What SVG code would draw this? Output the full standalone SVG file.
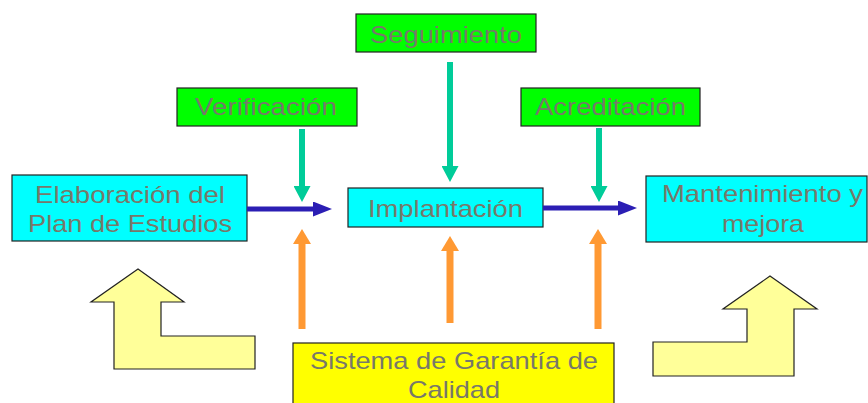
<svg xmlns="http://www.w3.org/2000/svg" width="868" height="403" viewBox="0 0 868 403">
<style>
  .box{stroke:#222;stroke-width:1.2}
  .cyan{fill:#00FFFF}
  .green{fill:#00FF00}
  .yellow{fill:#FFFF00}
  .big{fill:#FFFF99;stroke:#222;stroke-width:1.2}
  text{font-family:"Liberation Sans",Arial,sans-serif;font-size:24px;fill:#78786A;text-anchor:middle}
  .blue{stroke:#2B1EB4;stroke-width:5;fill:none}
  .teal{stroke:#00CC99;stroke-width:6;fill:none}
  .orange{stroke:#FF9933;stroke-width:7;fill:none}
</style>
<defs>
  <marker id="hb" markerUnits="userSpaceOnUse" markerWidth="19" markerHeight="15" refX="2" refY="7.5" orient="auto"><path d="M0,0 L19,7.5 L0,15 z" fill="#2B1EB4"/></marker>
  <marker id="hg" markerUnits="userSpaceOnUse" markerWidth="16" markerHeight="17" refX="2" refY="8.5" orient="auto"><path d="M0,0 L16,8.5 L0,17 z" fill="#00CC99"/></marker>
  <marker id="ho" markerUnits="userSpaceOnUse" markerWidth="15" markerHeight="18" refX="2" refY="9" orient="auto"><path d="M0,0 L15,9 L0,18 z" fill="#FF9933"/></marker>
</defs>
<g id="arrow-left">
  <path class="big" d="M138,269 L184,302 L161,302 L161,336 L255,336 L255,369 L114,369 L114,302 L91,302 Z"/>
</g>
<g id="arrow-right">
  <path class="big" d="M770,276 L817,309 L794,309 L794,376 L653,376 L653,342 L747,342 L747,309 L723,309 Z"/>
</g>
<g id="seguimiento">
  <rect class="box green" x="356" y="14" width="180" height="38"/>
  <text x="446" y="43" textLength="152" lengthAdjust="spacingAndGlyphs">Seguimiento</text>
</g>
<g id="verificacion">
  <rect class="box green" x="177" y="88" width="180" height="38"/>
  <text x="266" y="115" textLength="142" lengthAdjust="spacingAndGlyphs">Verificación</text>
</g>
<g id="acreditacion">
  <rect class="box green" x="521" y="88" width="179" height="38"/>
  <text x="610.5" y="115" textLength="151" lengthAdjust="spacingAndGlyphs">Acreditación</text>
</g>
<g id="elaboracion">
  <rect class="box cyan" x="12" y="175" width="235" height="66"/>
  <text x="130" y="203" textLength="190" lengthAdjust="spacingAndGlyphs">Elaboración del</text>
  <text x="130" y="232" textLength="204" lengthAdjust="spacingAndGlyphs">Plan de Estudios</text>
</g>
<g id="implantacion">
  <rect class="box cyan" x="348" y="188" width="195" height="39"/>
  <text x="445.5" y="217" textLength="155" lengthAdjust="spacingAndGlyphs">Implantación</text>
</g>
<g id="mantenimiento">
  <rect class="box cyan" x="646" y="176" width="221" height="66"/>
  <text x="762.5" y="202" textLength="201" lengthAdjust="spacingAndGlyphs">Mantenimiento y</text>
  <text x="763" y="232" textLength="82" lengthAdjust="spacingAndGlyphs">mejora</text>
</g>
<g id="sistema">
  <rect class="box yellow" x="293" y="343" width="321" height="64"/>
  <text x="454" y="369" textLength="288" lengthAdjust="spacingAndGlyphs">Sistema de Garantía de</text>
  <text x="454" y="398" textLength="92" lengthAdjust="spacingAndGlyphs">Calidad</text>
</g>
<g id="connectors">
  <line class="blue" x1="247" y1="209" x2="315" y2="209" marker-end="url(#hb)"/>
  <line class="blue" x1="543" y1="208" x2="620" y2="208" marker-end="url(#hb)"/>
  <line class="teal" x1="302" y1="129" x2="302" y2="188" marker-end="url(#hg)"/>
  <line class="teal" x1="450" y1="62" x2="450" y2="168" marker-end="url(#hg)"/>
  <line class="teal" x1="599" y1="128" x2="599" y2="188" marker-end="url(#hg)"/>
  <line class="orange" x1="302" y1="329" x2="302" y2="242" marker-end="url(#ho)"/>
  <line class="orange" x1="450" y1="323" x2="450" y2="249" marker-end="url(#ho)"/>
  <line class="orange" x1="598" y1="329" x2="598" y2="242" marker-end="url(#ho)"/>
</g>
</svg>
